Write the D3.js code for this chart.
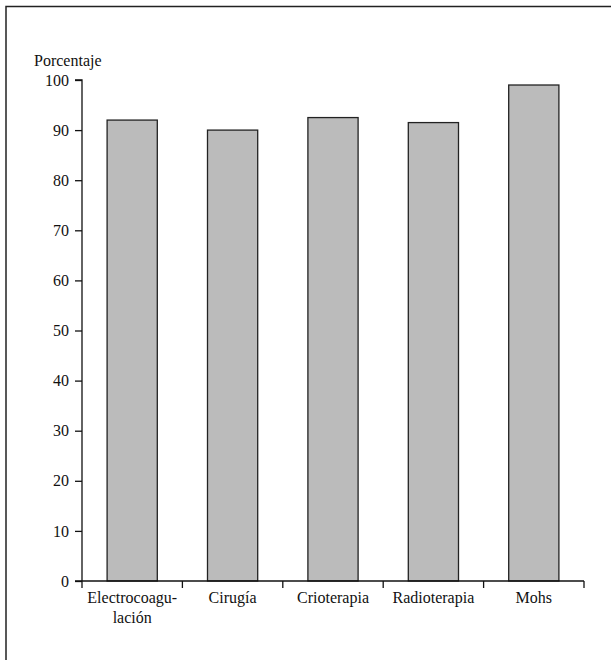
<!DOCTYPE html>
<html><head><meta charset="utf-8">
<script src="https://cdn.jsdelivr.net/npm/d3@7/dist/d3.min.js"></script>
<style>body{margin:0;background:#fff}svg{display:block}</style>
</head><body><svg id="c" width="611" height="660"></svg>
<script>
const categories = ["Electrocoagu-\nlación", "Cirugía", "Crioterapia", "Radioterapia", "Mohs"];
const values = [92, 90, 92.5, 91.5, 99];
const yTicks = [0, 10, 20, 30, 40, 50, 60, 70, 80, 90, 100];
const yLabel = "Porcentaje";

const svg = d3.select("#c");
function serif(sel) { return sel.style("font-family", "'Liberation Serif', serif").style("font-size", "16px").attr("fill", "#111"); }

svg.append("rect").attr("x", 6).attr("y", 6.5).attr("width", 620).attr("height", 670)
  .attr("fill", "none").attr("stroke", "#222").attr("stroke-width", 1.5);

const x = d3.scaleBand().domain(categories).range([82, 584]).paddingInner(0.5).paddingOuter(0.25);
const y = d3.scaleLinear().domain([0, 100]).range([581, 80]);

svg.append("g").selectAll("rect").data(values).join("rect")
  .attr("x", (d, i) => x(categories[i])).attr("width", x.bandwidth())
  .attr("y", d => y(d)).attr("height", d => y(0) - y(d))
  .attr("fill", "#bbbbbb").attr("stroke", "#222").attr("stroke-width", 1.3);

const ya = svg.append("g").attr("transform", "translate(82,0)")
  .call(d3.axisLeft(y).tickValues(yTicks).tickSize(7).tickPadding(6));
ya.select(".domain").attr("stroke", "#111").attr("stroke-width", 1.3).attr("d", `M-7,${y(100)}H0V${y(0)}`);
ya.selectAll(".tick line").attr("stroke", "#111").attr("stroke-width", 1.3);
serif(ya.selectAll("text"));

const xa = svg.append("g");
xa.append("line").attr("x1", 75).attr("x2", 584).attr("y1", y(0)).attr("y2", y(0)).attr("stroke", "#111").attr("stroke-width", 1.3);
const bounds = categories.map(c => x(c) - x.step() * x.paddingInner() / 2);
bounds.push(bounds[bounds.length - 1] + x.step());
xa.selectAll("line.tk").data(bounds).join("line").attr("class", "tk")
  .attr("x1", d => d).attr("x2", d => d).attr("y1", y(0)).attr("y2", y(0) + 7)
  .attr("stroke", "#111").attr("stroke-width", 1.3);
serif(xa.selectAll("text").data(categories).join("text"))
  .attr("x", c => x(c) + x.bandwidth() / 2).attr("y", 603)
  .attr("text-anchor", "middle")
  .each(function(c) {
    d3.select(this).selectAll("tspan").data(c.split("\n")).join("tspan")
      .attr("x", x(c) + x.bandwidth() / 2).attr("dy", (d, i) => i ? 20 : 0).text(d => d);
  });

serif(svg.append("text")).attr("x", 34).attr("y", 66).text(yLabel);
</script></body></html>
